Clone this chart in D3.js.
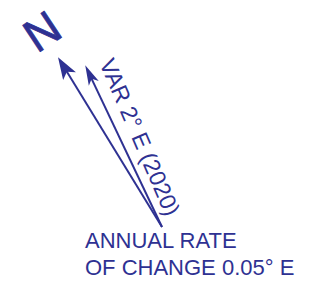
<!DOCTYPE html>
<html><head><meta charset="utf-8">
<script src="https://cdn.jsdelivr.net/npm/d3@7"></script>
<style>html,body{margin:0;padding:0;background:#fff;}svg{display:block;}</style>
</head><body>
<script>
// Data
const arrowNames = ["TRUE NORTH", "MAGNETIC NORTH"];
const arrowAzimuths = [-31.5, -25.4];   // degrees from vertical
const arrowLengths = [199, 179];
const northLabel = "N";
const varLabel = "VAR 2° E (2020)";
const rateLines = ["ANNUAL RATE", "OF CHANGE 0.05° E"];

const W = 314, H = 281;
const color = "#2e3192";
const origin = [162, 227];

const svg = d3.select("body").append("svg").attr("width", W).attr("height", H);
const g = svg.append("g").attr("transform", `translate(${origin[0]},${origin[1]})`);

const toRad = d3.scaleLinear().domain([0, 360]).range([0, 2 * Math.PI]);
const pt = (az, r) => d3.pointRadial(toRad(az), r);

// arrow lines
const arrows = arrowNames.map((n, i) => ({name: n, az: arrowAzimuths[i], len: arrowLengths[i]}));
const headLen = [22, 20], headHalf = [7.5, 5.5];
g.selectAll("line.arrow").data(arrows).join("line")
  .attr("class", "arrow")
  .attr("x1", 0).attr("y1", 0)
  .attr("x2", d => pt(d.az, d.len - 10)[0])
  .attr("y2", d => pt(d.az, d.len - 10)[1])
  .attr("stroke", color).attr("stroke-width", 2);

g.selectAll("path.head").data(arrows).join("path")
  .attr("class", "head")
  .attr("d", (d, i) => {
    const L = headLen[i], h = headHalf[i];
    return `M0,0 L${h},${L} L0,${L - 5} L${-h},${L} Z`;
  })
  .attr("transform", d => { const p = pt(d.az, d.len); return `translate(${p[0]},${p[1]}) rotate(${d.az})`; })
  .attr("fill", color);

// N label
const nPos = pt(arrowAzimuths[0], 230);
g.append("text")
  .attr("transform", `translate(${nPos[0]},${nPos[1]}) rotate(${arrowAzimuths[0] - 2})`)
  .attr("text-anchor", "middle").attr("dy", "0.36em")
  .attr("font-family", "Liberation Sans, Arial, sans-serif")
  .attr("font-size", 46)
  .attr("stroke", color).attr("stroke-width", 0.8)
  .attr("fill", color).text(northLabel);

// VAR label along magnetic arrow
const az = arrowAzimuths[1];
const textAz = az + 2;
const mid = pt(az, 91);
const nrm = [Math.cos(toRad(az)), Math.sin(toRad(az))];
const off = 10.5;
g.append("text")
  .attr("transform", `translate(${mid[0] + nrm[0] * off},${mid[1] + nrm[1] * off}) rotate(${90 + textAz})`)
  .attr("text-anchor", "middle")
  .attr("font-family", "Liberation Sans, Arial, sans-serif")
  .attr("font-size", 23)
  .attr("fill", color).text(varLabel);

// bottom text
svg.selectAll("text.rate").data(rateLines).join("text")
  .attr("class", "rate")
  .attr("x", 85).attr("y", (d, i) => 248 + i * 27)
  .attr("font-family", "Liberation Sans, Arial, sans-serif")
  .attr("font-size", 22)
  .attr("fill", color).text(d => d);
</script>
</body></html>
